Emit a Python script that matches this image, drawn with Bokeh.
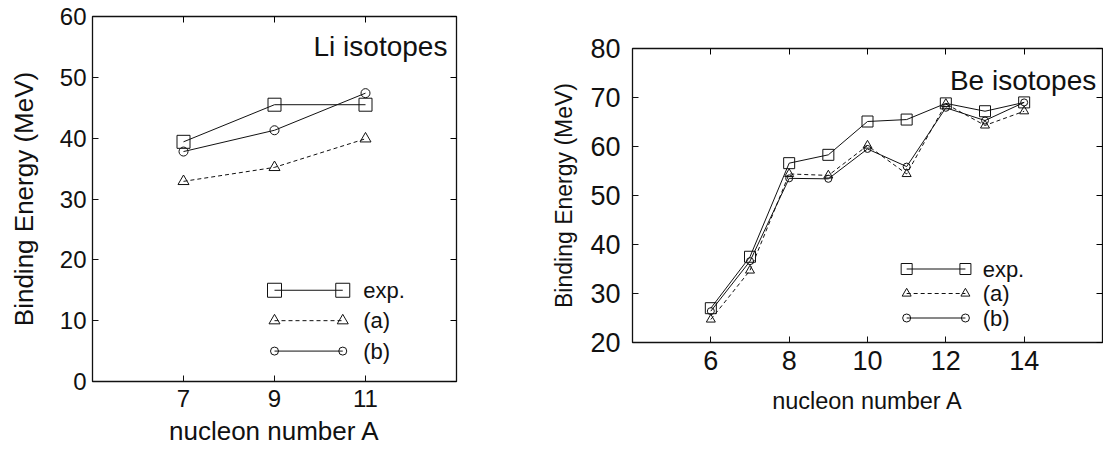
from bokeh.plotting import figure
from bokeh.layouts import row, column
from bokeh.models import Range1d, FixedTicker, LinearAxis, Label
from bokeh.embed import file_html
from bokeh.resources import INLINE

FONT = "Liberation Sans"
INK = "#111111"

# ---- data: Li isotopes ----
li_A = [7, 9, 11]
li_exp = [39.4, 45.5, 45.5]
li_a = [32.9, 35.2, 39.9]
li_b = [37.8, 41.3, 47.4]
li_xticks = [7, 9, 11]
li_yticks = [0, 10, 20, 30, 40, 50, 60]

# ---- data: Be isotopes ----
be_A = [6, 7, 8, 9, 10, 11, 12, 13, 14]
be_exp = [27.0, 37.5, 56.6, 58.3, 65.1, 65.5, 68.8, 67.2, 69.0]
be_a = [24.7, 34.7, 54.4, 54.1, 60.2, 54.4, 68.7, 64.3, 67.2]
be_b = [26.4, 36.6, 53.5, 53.4, 59.5, 55.9, 67.9, 65.3, 69.0]
be_xticks = [6, 8, 10, 12, 14]
be_yticks = [20, 30, 40, 50, 60, 70, 80]

legend_labels = ["exp.", "(a)", "(b)"]
li_key_x = [9, 10.5]
li_key_y = [15, 10, 5]
be_key_x = [11, 12.5]
be_key_y = [35, 30, 25]
x_title = "nucleon number A"
y_title = "Binding Energy (MeV)"


def style(p, xticks, yticks, tick_fs, label_fs_x, label_fs_y, xs, xl, ys, yl):
    p.xgrid.visible = False
    p.ygrid.visible = False
    p.outline_line_color = INK
    p.outline_line_width = 1.3
    p.background_fill_color = "white"
    p.border_fill_color = "white"
    bottom_ax = p.below[0]
    left_ax = p.left[0]
    for ax, ticks, lfs, s, l in ((bottom_ax, xticks, label_fs_x, xs, xl),
                                 (left_ax, yticks, label_fs_y, ys, yl)):
        ax.ticker = FixedTicker(ticks=ticks)
        ax.axis_line_color = None
        ax.major_tick_in = 6
        ax.major_tick_out = 0
        ax.minor_tick_line_color = None
        ax.major_tick_line_color = INK
        ax.major_label_text_font = FONT
        ax.major_label_text_font_size = tick_fs
        ax.major_label_text_color = INK
        ax.major_label_standoff = s
        ax.axis_label_text_font = FONT
        ax.axis_label_text_font_size = lfs
        ax.axis_label_text_font_style = "normal"
        ax.axis_label_text_color = INK
        ax.axis_label_standoff = l
    top = LinearAxis(ticker=FixedTicker(ticks=xticks), major_tick_in=6, major_tick_out=0,
                     minor_tick_line_color=None, axis_line_color=None,
                     major_label_overrides={t: "" for t in xticks},
                     major_label_text_font_size="1px", major_label_standoff=0)
    right = LinearAxis(ticker=FixedTicker(ticks=yticks), major_tick_in=6, major_tick_out=0,
                       minor_tick_line_color=None, axis_line_color=None,
                       major_label_overrides={t: "" for t in yticks},
                       major_label_text_font_size="1px", major_label_standoff=0)
    p.add_layout(top, "above")
    p.add_layout(right, "right")


def series(p, x, ys, sizes):
    exp, a, b = ys
    p.line(x, exp, line_color=INK, line_width=1)
    p.scatter(x, exp, marker="square", size=sizes[0], fill_color=None, line_color=INK, line_width=1)
    p.line(x, a, line_color=INK, line_width=1, line_dash="4 3")
    p.scatter(x, a, marker="triangle", size=sizes[1], fill_color=None, line_color=INK, line_width=1)
    p.line(x, b, line_color=INK, line_width=1)
    p.scatter(x, b, marker="circle", size=sizes[2], fill_color=None, line_color=INK, line_width=1)


def key(p, kx, ky, sizes, text_x, fs):
    markers = ["square", "triangle", "circle"]
    dashes = ["solid", "4 3", "solid"]
    for i in range(3):
        p.line(kx, [ky[i], ky[i]], line_color=INK, line_width=1, line_dash=dashes[i])
        p.scatter(kx, [ky[i], ky[i]], marker=markers[i], size=sizes[i], fill_color=None,
                  line_color=INK, line_width=1)
        p.add_layout(Label(x=text_x, y=ky[i], text=legend_labels[i], text_font=FONT,
                           text_font_size=fs, text_baseline="middle", text_align="left",
                           text_color=INK))


# ---- left figure ----
p1 = figure(frame_width=364, frame_height=365, min_border_left=92, min_border_right=24,
            min_border_top=16, min_border_bottom=70, output_backend="svg",
            toolbar_location=None, x_range=Range1d(5, 13), y_range=Range1d(0, 60),
            x_axis_label=x_title, y_axis_label=y_title)
style(p1, li_xticks, li_yticks, "24px", "26px", "26px", 8, 6, 6, 18)
series(p1, li_A, (li_exp, li_a, li_b), (13, 11, 9))
key(p1, li_key_x, li_key_y, (14, 11, 8), 10.95, "22px")
p1.add_layout(Label(x=12.8, y=55, text="Li isotopes", text_font=FONT, text_font_size="28px",
                    text_align="right", text_baseline="alphabetic", text_color=INK))

# ---- right figure ----
p2 = figure(frame_width=470, frame_height=294, min_border_left=152, min_border_right=1,
            min_border_top=48, min_border_bottom=109, output_backend="svg",
            toolbar_location=None, x_range=Range1d(4, 16), y_range=Range1d(20, 80),
            x_axis_label=x_title, y_axis_label=y_title)
style(p2, be_xticks, be_yticks, "27px", "23.5px", "23px", 8, 15, 12, 10)
series(p2, be_A, (be_exp, be_a, be_b), (11, 9, 7))
key(p2, be_key_x, be_key_y, (11, 9, 8), 12.94, "22px")
p2.add_layout(Label(x=15.84, y=73.4, text="Be isotopes", text_font=FONT, text_font_size="28px",
                    text_align="right", text_baseline="alphabetic", text_color=INK))

layout = row(column(p1), column(p2))
open("out.html", "w").write(file_html(layout, INLINE))
